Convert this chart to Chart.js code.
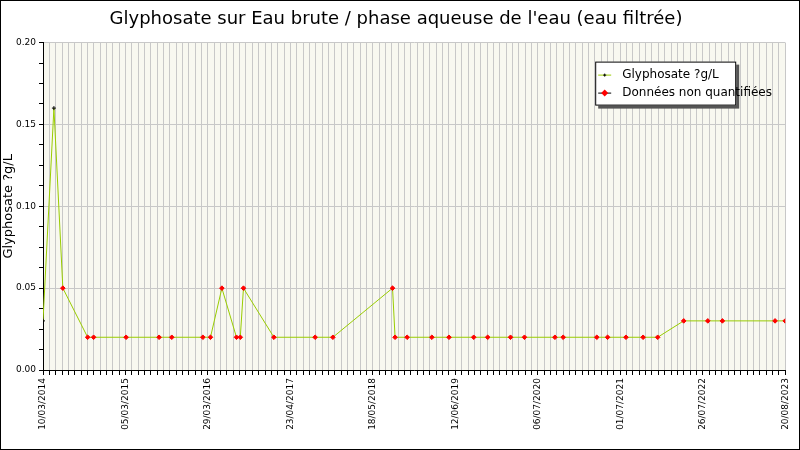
<!DOCTYPE html>
<html><head><meta charset="utf-8">
<script src="https://cdn.jsdelivr.net/npm/chart.js@4/dist/chart.umd.min.js"></script>
<style>html,body{margin:0;padding:0;background:#fff}#w{width:798px;height:448px;border:1px solid #000}</style>
</head><body><div id="w"><canvas id="c" width="798" height="448"></canvas></div>
<script>
const tickLabels = ["10/03/2014","05/03/2015","29/03/2016","23/04/2017","18/05/2018","12/06/2019","06/07/2020","01/07/2021","26/07/2022","20/08/2023"];
// x positions in axis units (13 units between labelled dates)
const allX = [0,1.72,3.13,7.04,7.98,13.1,18.3,20.3,25.2,26.4,28.2,30.5,31.1,31.6,36.4,42.9,45.7,55.1,55.5,57.4,61.3,64.0,67.9,70.1,73.7,75.9,80.7,82.0,87.3,89.0,91.9,94.6,96.9,101.0,104.8,107.1,115.4,117];
const allY = [0.03,0.16,0.05,0.02,0.02,0.02,0.02,0.02,0.02,0.02,0.05,0.02,0.02,0.05,0.02,0.02,0.02,0.05,0.02,0.02,0.02,0.02,0.02,0.02,0.02,0.02,0.02,0.02,0.02,0.02,0.02,0.02,0.02,0.03,0.03,0.03,0.03,0.03];
const quantIdx = [0,1];
const legendLabels = ['Glyphosate ?g/L','Données non quantifiées'];
const lineData = allX.map((x,i)=>({x,y:allY[i]}));
const quantData = quantIdx.map(i=>({x:allX[i],y:allY[i]}));
const nqData = lineData.filter((p,i)=>!quantIdx.includes(i));
const bgPlugin={id:'bg',beforeDraw(c){const a=c.chartArea,x=c.ctx;x.save();x.fillStyle='#f8f8f0';x.fillRect(a.left,a.top,a.right-a.left,a.bottom-a.top);x.restore();},
 afterDraw(c){const x=c.ctx,a=c.chartArea;const L=a.right-190,T=a.top+19,W=141,H=44;
  x.save();x.fillStyle='#555';x.fillRect(L+3,T+3,W,H);x.fillStyle='#fff';x.fillRect(L,T,W,H);
  x.strokeStyle='#000';x.lineWidth=1;x.strokeRect(L+0.5,T+0.5,W-1,H-1);
  x.font='12px "DejaVu Sans"';x.fillStyle='#000';x.textBaseline='middle';
  // legend line 1
  x.strokeStyle='#99cc00';x.beginPath();x.moveTo(L+3,T+13.5);x.lineTo(L+16,T+13.5);x.stroke();
  x.strokeStyle='#000';x.beginPath();x.moveTo(L+8,T+13.5);x.lineTo(L+11,T+13.5);x.moveTo(L+9.5,T+12);x.lineTo(L+9.5,T+15);x.stroke();
  x.fillText(legendLabels[0],L+27,T+13);
  x.strokeStyle='#000';x.beginPath();x.moveTo(L+3,T+31.5);x.lineTo(L+16,T+31.5);x.stroke();
  x.fillStyle='#f00';x.beginPath();x.moveTo(L+9.5,T+28);x.lineTo(L+13,T+31.5);x.lineTo(L+9.5,T+35);x.lineTo(L+6,T+31.5);x.closePath();x.fill();
  x.fillStyle='#000';x.fillText(legendLabels[1],L+27,T+31);
  x.restore();}};
new Chart(document.getElementById('c'),{
 type:'line',
 data:{datasets:[
  {label:legendLabels[0],data:lineData,borderColor:'#99cc00',borderWidth:1,pointRadius:0,order:2},
  {label:legendLabels[0],data:quantData,showLine:false,pointStyle:'cross',pointRadius:2,pointBorderColor:'#000',borderColor:'#000',pointBorderWidth:1,order:1},
  {label:legendLabels[1],data:nqData,showLine:false,pointStyle:'rectRot',pointRadius:2.3,pointBackgroundColor:'#ff0000',pointBorderColor:'#ff0000',borderColor:'#ff0000',backgroundColor:'#ff0000',order:0}
 ]},
 options:{responsive:false,animation:false,
  layout:{padding:{left:0,right:8,top:0,bottom:0}},
  plugins:{
   title:{display:true,text:"Glyphosate sur Eau brute / phase aqueuse de l'eau (eau filtrée)",font:{family:'DejaVu Sans',size:18,weight:'normal'},color:'#000',padding:{top:8,bottom:12}},
   legend:{display:false},
   tooltip:{enabled:false}},
  scales:{
   x:{type:'linear',min:0,max:117,
    afterFit(s){s.height=79;},
    ticks:{stepSize:1,autoSkip:false,maxTicksLimit:500,maxRotation:90,minRotation:90,font:{family:'DejaVu Sans',size:9},color:'#000',
     callback:v=>(Math.round(v)%13===0?tickLabels[Math.round(v)/13]:'')},
    grid:{color:'#c8c8c8',tickColor:'#000',tickLength:5,drawTicks:true},border:{color:'#000'}},
   y:{min:0,max:0.2,
    afterFit(s){s.width=42;},
    ticks:{stepSize:0.0125,autoSkip:false,maxTicksLimit:100,font:{family:'DejaVu Sans',size:9},color:'#000',
     callback:v=>{const k=Math.round(v/0.0125);return k%4===0?(k*0.0125).toFixed(2):'';}},
    title:{display:true,text:'Glyphosate ?g/L',font:{family:'DejaVu Sans',size:13},color:'#000',padding:0},
    grid:{color:c=>(Math.round(c.tick.value/0.0125)%4===0?'#c8c8c8':'rgba(0,0,0,0)'),tickColor:'#000',tickLength:4},border:{color:'#000'}}
  }},
 plugins:[bgPlugin]
});
</script></body></html>
